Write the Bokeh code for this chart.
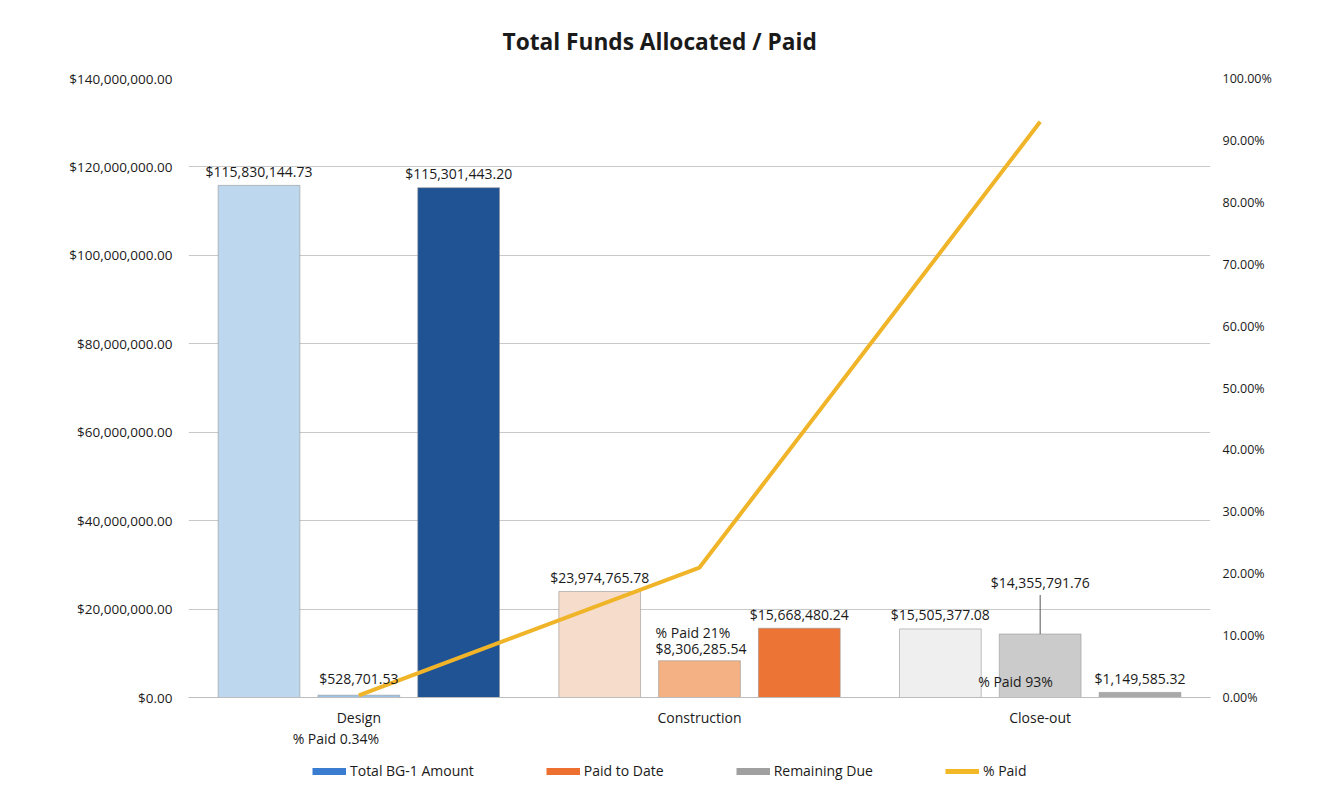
from bokeh.plotting import figure
from bokeh.layouts import column
from bokeh.models import (ColumnDataSource, FactorRange, Range1d, LinearAxis, FixedTicker,
                          NumeralTickFormatter, Legend, LegendItem)
from bokeh.transform import dodge
from bokeh.core.properties import value
from bokeh.embed import file_html
from bokeh.resources import INLINE

# ---------------- data ----------------
categories = ["Design", "Construction", "Close-out"]
total_bg1 = [115830144.73, 23974765.78, 15505377.08]
paid_to_date = [528701.53, 8306285.54, 14355791.76]
remaining_due = [115301443.20, 15668480.24, 1149585.32]
pct_paid = [0.0034, 0.21, 0.93]
pct_labels = ["% Paid 0.34%", "% Paid 21%", "% Paid 93%"]
series_names = ["Total BG-1 Amount", "Paid to Date", "Remaining Due", "% Paid"]
left_ticks = [0, 20e6, 40e6, 60e6, 80e6, 100e6, 120e6, 140e6]
right_ticks = [0.0, 0.1, 0.2, 0.3, 0.4, 0.5, 0.6, 0.7, 0.8, 0.9, 1.0]
title_text = "Total Funds Allocated / Paid"

# ---------------- styles ----------------
total_colors = ["#bdd7ee", "#f6dccb", "#efefef"]
paid_colors = ["#9dc3e6", "#f4b183", "#cbcbcb"]
remaining_colors = ["#1f5393", "#ec7434", "#a9a9a9"]
legend_colors = ["#3a7dd0", "#ee7030", "#a0a0a0", "#f2b826"]
line_color = "#f0b429"
TXT = "#1a1a1a"
FONT = "Open Sans"
W = 0.24
D = 0.293
FRAME_W = 1022
FRAME_H = 619
Y_MAX = 140e6
ML, MR, MT = 188, 105, 78
H1, H2 = 729, 53


def money(v):
    return "${:,.2f}".format(v)


src = ColumnDataSource(dict(
    cat=categories,
    total=total_bg1, paid=paid_to_date, remaining=remaining_due,
    total_lbl=[money(v) for v in total_bg1],
    paid_lbl=[money(v) for v in paid_to_date],
    rem_lbl=[money(v) for v in remaining_due],
    total_color=total_colors, paid_color=paid_colors, rem_color=remaining_colors,
))

xr = FactorRange(factors=categories, range_padding=0)
p = figure(width=ML + FRAME_W + MR, height=H1, x_range=xr,
           y_range=Range1d(0, Y_MAX), output_backend="svg", toolbar_location=None,
           min_border_left=ML, min_border_right=MR, min_border_top=MT,
           min_border_bottom=H1 - MT - FRAME_H)
p.extra_y_ranges = {"pct": Range1d(0, 1.0)}
p.outline_line_color = None
p.background_fill_color = "white"
p.border_fill_color = "white"

# title
p.title.text = title_text
p.title.align = "left"
p.title.offset = 314
p.title.standoff = 44
p.title.text_font = FONT
p.title.text_font_style = "bold"
p.title.text_font_size = "22.7px"
p.title.text_color = TXT

# axes
p.yaxis.ticker = FixedTicker(ticks=left_ticks)
p.yaxis.formatter = NumeralTickFormatter(format="$0,0.00")
p.yaxis.axis_line_color = None
p.yaxis.major_tick_line_color = None
p.yaxis.major_tick_out = 0
p.yaxis.minor_tick_line_color = None
p.yaxis.major_label_standoff = 16
p.yaxis.major_label_text_font = FONT
p.yaxis.major_label_text_font_size = "13.5px"
p.yaxis.major_label_text_color = TXT

p.xaxis.axis_line_color = "#bdbdbd"
p.xaxis.major_tick_line_color = None
p.xaxis.major_tick_out = 0
p.xaxis.minor_tick_line_color = None
p.xaxis.major_label_standoff = 10
p.xaxis.major_label_text_font = FONT
p.xaxis.major_label_text_font_size = "14px"
p.xaxis.major_label_text_color = TXT

ry = LinearAxis(y_range_name="pct", ticker=FixedTicker(ticks=right_ticks),
                formatter=NumeralTickFormatter(format="0.00%"))
ry.axis_line_color = None
ry.major_tick_line_color = None
ry.major_tick_out = 0
ry.minor_tick_line_color = None
ry.major_label_standoff = 12
ry.major_label_text_font = FONT
ry.major_label_text_font_size = "12.5px"
ry.major_label_text_color = TXT
p.add_layout(ry, "right")

p.xgrid.grid_line_color = None
p.ygrid.grid_line_color = "#c9c9c9"
p.ygrid.grid_line_width = 1

# bars
bar_kw = dict(width=W, line_color="#8f8f8f", line_alpha=0.55, line_width=1, source=src)
p.vbar(x=dodge("cat", -D, range=xr), top="total", fill_color="total_color", **bar_kw)
p.vbar(x=dodge("cat", 0, range=xr), top="paid", fill_color="paid_color", **bar_kw)
p.vbar(x=dodge("cat", D, range=xr), top="remaining", fill_color="rem_color", **bar_kw)

# % paid line
p.line(x=categories, y=pct_paid, y_range_name="pct", line_color=line_color, line_width=4)

txt_kw = dict(text_font=value(FONT), text_font_size="14px", text_color=TXT,
              text_baseline="middle")

# generic labels over total / remaining bars
p.text(x=dodge("cat", -D, range=xr), y="total", text="total_lbl", y_offset=-14,
       text_align="center", source=src, **txt_kw)
p.text(x=dodge("cat", D, range=xr), y="remaining", text="rem_lbl", y_offset=-14,
       text_align="center", source=src, **txt_kw)


def put_text(fig, i, y, text, dx, dy, align):
    s = ColumnDataSource(dict(cat=[categories[i]], y=[y], t=[text]))
    fig.text(x=dodge("cat", 0, range=xr), y="y", text="t", x_offset=dx, y_offset=dy,
             text_align=align, source=s, **txt_kw)


# paid labels
put_text(p, 0, paid_to_date[0], money(paid_to_date[0]), 0, -17, "center")
put_text(p, 1, paid_to_date[1], money(paid_to_date[1]), -44, -12, "left")
put_text(p, 1, paid_to_date[1], pct_labels[1], -44, -28, "left")
put_text(p, 2, paid_to_date[2], money(paid_to_date[2]), 0, -52, "center")
put_text(p, 2, 0, pct_labels[2], -62, -16, "left")

# leader line for close-out paid label
lead_px = 39
lead_src = ColumnDataSource(dict(cat=[categories[2]], y0=[paid_to_date[2]],
                                 y1=[paid_to_date[2] + lead_px * Y_MAX / FRAME_H]))
p.segment(x0=dodge("cat", 0, range=xr), y0="y0", x1=dodge("cat", 0, range=xr),
          y1="y1", line_color="#555555", line_width=1, source=lead_src)

# ---------------- lower strip: % paid note for design + legend ----------------
p2 = figure(width=ML + FRAME_W + MR, height=H2, x_range=xr, y_range=Range1d(0, H2),
            output_backend="svg", toolbar_location=None, x_axis_location=None,
            y_axis_location=None, min_border_left=ML, min_border_right=MR,
            min_border_top=0, min_border_bottom=0)
p2.outline_line_color = None
p2.xgrid.grid_line_color = None
p2.ygrid.grid_line_color = None
p2.background_fill_color = "white"
p2.border_fill_color = "white"

put_text(p2, 0, H2, pct_labels[0], -23, 9, "center")

# legend swatches: placeholder renderers kept outside the strip's visible range
items = []
for name, col, lw in zip(series_names, legend_colors, [7, 7, 7, 5]):
    r = p2.line(x=[categories[0], categories[0]], y=[-H2, -H2], line_color=col,
                line_width=lw, line_cap="butt")
    items.append(LegendItem(label=name, renderers=[r]))
legend = Legend(items=items, orientation="horizontal", location=(124, 2),
                border_line_color=None, background_fill_alpha=0, padding=0, margin=0,
                spacing=72, glyph_width=34, glyph_height=16, label_height=16,
                label_standoff=4, label_text_font=FONT, label_text_font_size="14px",
                label_text_color=TXT)
p2.add_layout(legend)

layout = column(p, p2, spacing=0)
open("out.html", "w").write(file_html(layout, INLINE))
